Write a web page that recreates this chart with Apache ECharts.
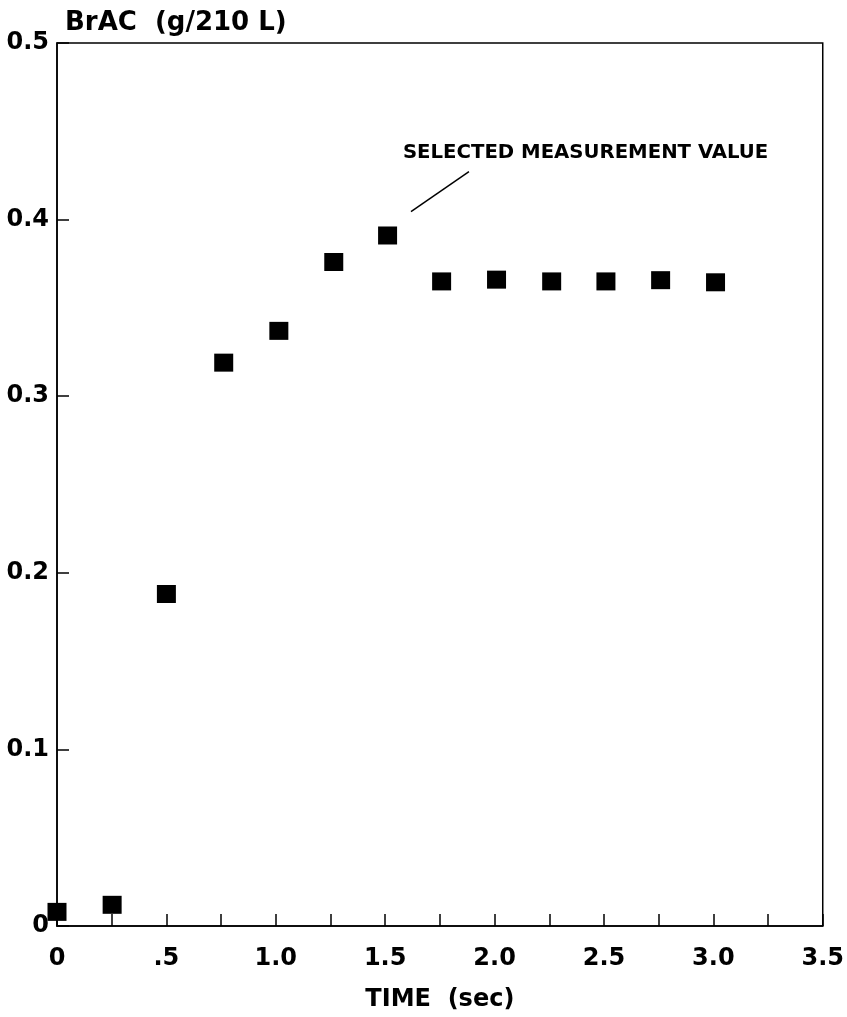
<!DOCTYPE html>
<html>
<head>
<meta charset="utf-8">
<script src="https://cdn.jsdelivr.net/npm/echarts@6/dist/echarts.min.js"></script>
<style>
html,body{margin:0;padding:0;background:#fff;}
#chart{width:847px;height:1017px;}
</style>
</head>
<body>
<div id="chart"></div>
<script>
// Data
var timeSec = [0, 0.252, 0.5, 0.762, 1.014, 1.265, 1.511, 1.758, 2.009, 2.261, 2.509, 2.759, 3.01];
var brac    = [0.008, 0.012, 0.188, 0.319, 0.337, 0.376, 0.391, 0.365, 0.366, 0.365, 0.365, 0.3657, 0.3645];
var xTickLabels = ['0', '.5', '1.0', '1.5', '2.0', '2.5', '3.0', '3.5'];
var yTickLabels = ['0', '0.1', '0.2', '0.3', '0.4', '0.5'];
var yTitle = 'BrAC  (g/210 L)';
var xTitle = 'TIME  (sec)';
var noteText = 'SELECTED MEASUREMENT VALUE';
var noteAnchor = [1.581, 0.4375];
var leaderFrom = [1.618, 0.4045];
var leaderTo = [1.883, 0.4271];

var FONT = 'DejaVu Sans';
var points = timeSec.map(function (t, i) { return [t, brac[i]]; });

var chart = echarts.init(document.getElementById('chart'), null, {renderer: 'canvas'});
chart.setOption({
  backgroundColor: '#fff',
  animation: false,
  title: {
    text: yTitle,
    left: 60,
    top: 5,
    textStyle: {fontFamily: FONT, fontSize: 26, fontWeight: 'bold', color: '#000'}
  },
  grid: {
    left: 57, right: 24, top: 43, bottom: 89,
    show: true, borderColor: '#000', borderWidth: 1.5, backgroundColor: 'transparent',
    containLabel: false
  },
  xAxis: {
    type: 'value', min: 0, max: 3.5, interval: 0.25,
    name: xTitle, nameLocation: 'middle', nameGap: 62,
    nameTextStyle: {fontFamily: FONT, fontSize: 24, fontWeight: 'bold', color: '#000'},
    axisLine: {show: true, lineStyle: {color: '#000', width: 1.5}},
    axisTick: {show: true, inside: true, length: 12, lineStyle: {color: '#000', width: 1.5}},
    splitLine: {show: false},
    axisLabel: {
      margin: 21, fontFamily: FONT, fontSize: 24, fontWeight: 'bold', color: '#000',
      showMinLabel: true, showMaxLabel: true,
      formatter: function (v) {
        var k = Math.round(v / 0.5);
        if (Math.abs(v - k * 0.5) > 1e-6) return '';
        return xTickLabels[k] || '';
      }
    }
  },
  yAxis: {
    type: 'value', min: 0, max: 0.5, interval: 0.1,
    axisLine: {show: true, lineStyle: {color: '#000', width: 1.5}},
    axisTick: {show: true, inside: true, length: 12, lineStyle: {color: '#000', width: 1.5}},
    splitLine: {show: false},
    axisLabel: {
      margin: 8, fontFamily: FONT, fontSize: 24, fontWeight: 'bold', color: '#000',
      showMinLabel: true, showMaxLabel: true,
      formatter: function (v) {
        var k = Math.round(v / 0.1);
        return yTickLabels[k] || '';
      }
    }
  },
  series: [{
    type: 'scatter',
    data: points,
    symbol: 'rect',
    symbolSize: [19, 18],
    clip: false,
    itemStyle: {color: '#000', opacity: 1},
    emphasis: {disabled: true},
    markLine: {
      silent: true,
      symbol: ['none', 'none'],
      lineStyle: {color: '#000', width: 1.5, type: 'solid', opacity: 1},
      label: {show: false},
      data: [[{coord: leaderFrom}, {coord: leaderTo}]]
    },
    markPoint: {
      silent: true,
      symbol: 'circle',
      symbolSize: 0,
      data: [{coord: noteAnchor, value: noteText}],
      label: {
        show: true, position: 'right', distance: 0,
        formatter: noteText,
        fontFamily: FONT, fontSize: 19.7, fontWeight: 'bold', color: '#000'
      }
    }
  }]
});
</script>
</body>
</html>
